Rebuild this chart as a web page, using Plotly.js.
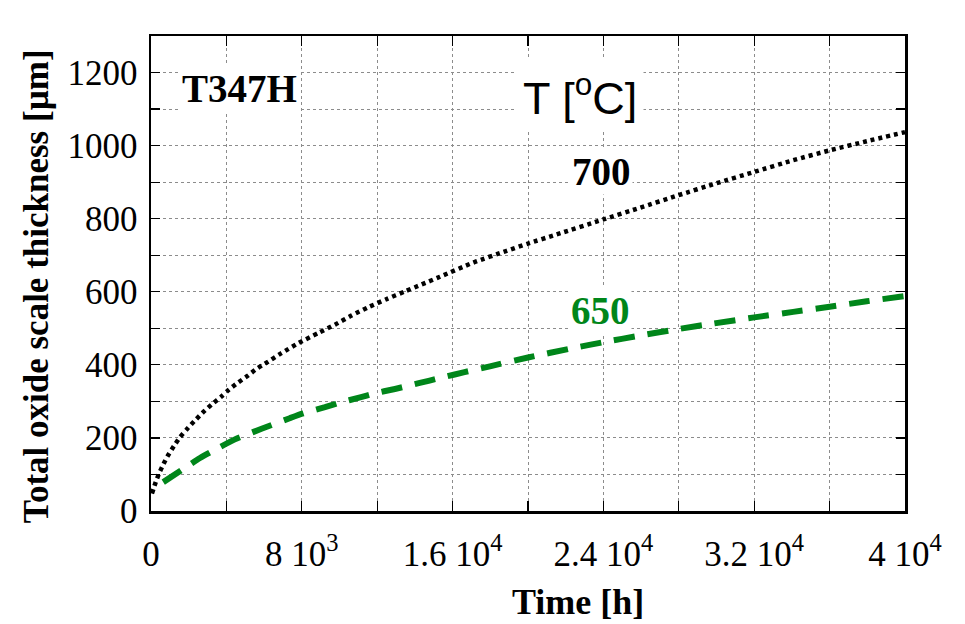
<!DOCTYPE html>
<html>
<head>
<meta charset="utf-8">
<script src="https://cdn.plot.ly/plotly-3.0.1.min.js"></script>
<style>html,body{margin:0;padding:0;background:#fff;}#chart{width:965px;height:624px;}</style>
</head>
<body>
<div id="chart"></div>
<script>
// Time [h] and thickness [µm]
const time700 = [50, 250, 420, 650, 880, 1220, 1540, 1890, 2300, 2740, 3250, 3750, 4130, 4630, 5100, 5600, 6040, 6920, 7840, 8870, 9760, 10640, 11580, 12500, 13470, 14360, 15330, 17100, 18870, 20000, 21520, 24000, 25940, 27970, 30000, 32000, 34070, 36000, 37970, 40000];
const thick700 = [48, 79, 102, 127, 150, 178, 202, 223, 246, 269, 293, 314, 332, 352, 369, 389, 403, 432, 460, 487, 510, 535, 559, 580, 601, 620, 641, 680, 712, 732, 757, 798, 830, 864, 897, 928, 960, 987, 1012, 1037];
const time650 = [650, 1770, 2600, 3660, 4450, 5510, 6220, 7360, 8070, 9230, 9930, 11090, 11790, 12940, 13740, 14780, 15570, 16630, 17980, 20000, 22390, 24000, 25940, 27970, 29830, 32000, 34070, 36000, 37970, 40000];
const thick650 = [79, 117, 145, 175, 196, 218, 232, 254, 267, 284, 295, 311, 321, 334, 344, 357, 367, 380, 396, 420, 446, 462, 480, 498, 513, 530, 545, 559, 574, 588];

const xTickVals = [0, 8000, 16000, 24000, 32000, 40000];
const xTickText = ["0", "8 10<sup>3</sup>", "1.6 10<sup>4</sup>", "2.4 10<sup>4</sup>", "3.2 10<sup>4</sup>", "4 10<sup>4</sup>"];
const yTickVals = [0, 200, 400, 600, 800, 1000, 1200];
const yTickText = ["0", "200", "400", "600", "800", "1000", "1200"];

const seriesNames = ["700", "650"];
const seriesColors = ["#000000", "#00861a"];

const serif = "Liberation Serif, Times New Roman, serif";
const sans = "Liberation Sans, Arial, sans-serif";

const traces = [
  {x: time700, y: thick700, name: seriesNames[0], type: "scatter", mode: "lines",
   line: {color: seriesColors[0], width: 4.5, dash: "4px,4px", shape: "spline", smoothing: 0.6}},
  {x: time650, y: thick650, name: seriesNames[1], type: "scatter", mode: "lines",
   line: {color: seriesColors[1], width: 6, dash: "21px,13px", shape: "spline", smoothing: 0.6}}
];

const gridColor = "#8c8c8c";

const layout = {
  width: 965, height: 624,
  margin: {l: 151, r: 60, t: 36, b: 113, pad: 0},
  paper_bgcolor: "#fff", plot_bgcolor: "#fff",
  showlegend: false,
  font: {family: serif, color: "#000", size: 35},
  xaxis: {
    range: [0, 40000], tickmode: "array", tickvals: xTickVals, ticktext: xTickText,
    ticks: "inside", ticklen: 10, tickwidth: 1.2, tickcolor: "#000",
    showgrid: true, gridcolor: gridColor, gridwidth: 1, griddash: "dot",
    minor: {dtick: 4000, tick0: 0, ticks: "inside", ticklen: 10, tickwidth: 1.2, tickcolor: "#000",
            showgrid: true, gridcolor: gridColor, gridwidth: 1, griddash: "dot"},
    showline: true, linecolor: "#000", linewidth: 2.5, mirror: "allticks",
    zeroline: false, ticklabelstandoff: 10,
    tickfont: {family: serif, size: 35, color: "#000"}
  },
  xaxis2: {
    overlaying: "x", anchor: "y", side: "bottom", range: [0, 40000],
    tickmode: "linear", tick0: 0, dtick: 1000,
    ticks: "inside", ticklen: 6, tickwidth: 1, tickcolor: "#000",
    showticklabels: false, showgrid: false, zeroline: false,
    showline: true, linecolor: "#000", linewidth: 2.5, mirror: "allticks"
  },
  yaxis: {
    range: [0, 1300], tickmode: "array", tickvals: yTickVals, ticktext: yTickText,
    ticks: "inside", ticklen: 9, tickwidth: 1.2, tickcolor: "#000",
    showgrid: true, gridcolor: gridColor, gridwidth: 1, griddash: "dot",
    minor: {dtick: 100, tick0: 0, ticks: "inside", ticklen: 9, tickwidth: 1.2, tickcolor: "#000",
            showgrid: true, gridcolor: gridColor, gridwidth: 1, griddash: "dot"},
    showline: true, linecolor: "#000", linewidth: 2.5, mirror: "allticks",
    zeroline: false, ticklabelstandoff: 4,
    tickfont: {family: serif, size: 35, color: "#000"}
  },
  annotations: [
    {text: "<b>Time [h]</b>", xref: "paper", yref: "paper", x: 0.566, y: -0.192,
     xanchor: "center", yanchor: "middle", showarrow: false, font: {family: serif, size: 36, color: "#000"}},
    {text: "<b>Total oxide scale thickness [µm]</b>", xref: "paper", yref: "paper", x: -0.152, y: 0.474,
     xanchor: "center", yanchor: "middle", textangle: -90, showarrow: false, font: {family: serif, size: 35, color: "#000"}},
    {text: "<b>T347H</b>", xref: "paper", yref: "paper", x: 0.117, y: 0.89,
     xanchor: "center", yanchor: "middle", showarrow: false, bgcolor: "#fff", borderpad: 2,
     font: {family: serif, size: 39, color: "#000"}},
    {text: "T [<sup>o</sup>C]", xref: "paper", yref: "paper", x: 0.569, y: 0.875,
     xanchor: "center", yanchor: "middle", showarrow: false, bgcolor: "#fff", borderpad: 6,
     font: {family: sans, size: 45, color: "#000"}},
    {text: "<b>700</b>", xref: "paper", yref: "paper", x: 0.598, y: 0.714,
     xanchor: "center", yanchor: "middle", showarrow: false, bgcolor: "#fff", borderpad: 1,
     font: {family: serif, size: 39, color: seriesColors[0]}},
    {text: "<b>650</b>", xref: "paper", yref: "paper", x: 0.596, y: 0.423,
     xanchor: "center", yanchor: "middle", showarrow: false, bgcolor: "#fff", borderpad: 1,
     font: {family: serif, size: 39, color: seriesColors[1]}}
  ]
};

Plotly.newPlot("chart", traces, layout, {staticPlot: true, displayModeBar: false});
</script>
</body>
</html>
